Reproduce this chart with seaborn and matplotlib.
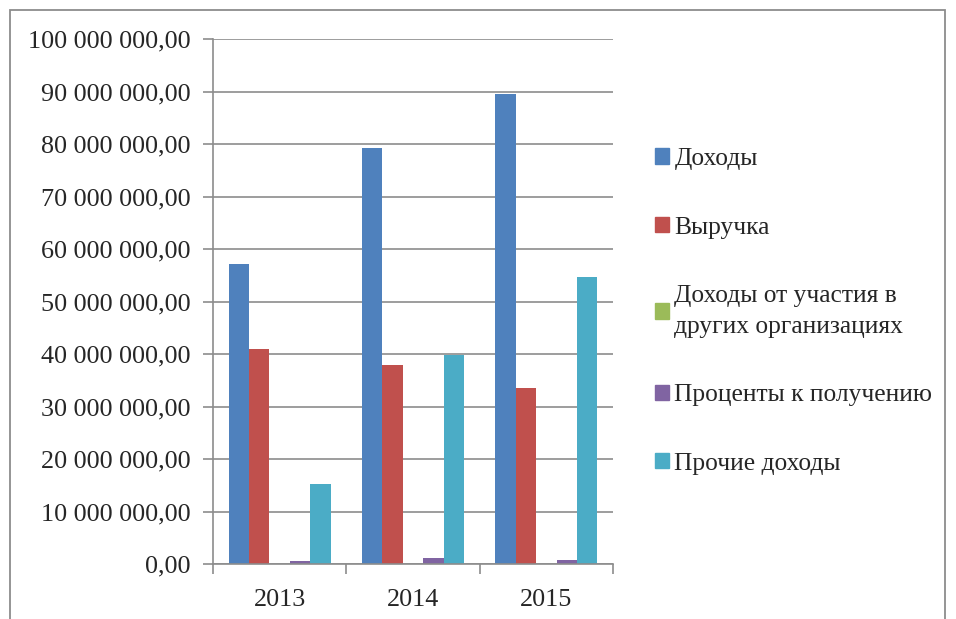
import matplotlib
matplotlib.use("Agg")
import matplotlib.pyplot as plt
import matplotlib.patches as mpatches
from matplotlib.ticker import FuncFormatter, FixedLocator
import seaborn as sns
import pandas as pd

years = ["2013", "2014", "2015"]
series = ["Доходы", "Выручка", "Доходы от участия в\nдругих организациях",
          "Проценты к получению", "Прочие доходы"]
dohody = [57200000, 79200000, 89500000]
vyruchka = [41000000, 38000000, 33600000]
uchastie = [0, 0, 0]
procenty = [640000, 1060000, 850000]
prochie = [15300000, 39900000, 54700000]
colors = ["#4F81BD", "#C0504D", "#9BBB59", "#8064A2", "#4BACC6"]

rows = []
for name, vals in zip(series, [dohody, vyruchka, uchastie, procenty, prochie]):
    for y, v in zip(years, vals):
        rows.append({"Год": y, "Серия": name, "Значение": v})
df = pd.DataFrame(rows)

sns.set_style("white")
plt.rcParams["font.family"] = ["Liberation Serif", "DejaVu Serif"]

FS = 18.8
LFS = 18.4

fig = plt.figure(figsize=(9.56, 6.19), dpi=100)
ax = fig.add_axes([213/956, 55/619, 400/956, 525/619])

sns.barplot(data=df, x="Год", y="Значение", hue="Серия", hue_order=series,
            palette=colors, width=0.765, saturation=1, ax=ax, errorbar=None,
            linewidth=0)

ax.set_ylim(0, 100000000)
ax.set_xlim(-0.5, 2.5)
ax.set_yticks([i * 10000000 for i in range(11)])
ax.yaxis.set_major_formatter(FuncFormatter(
    lambda v, p: f"{v:,.2f}".replace(",", " ").replace(".", ",")))
ax.yaxis.grid(True, color="#8c8c8c", linewidth=1.2)
ax.set_axisbelow(True)

ax.xaxis.set_major_locator(FixedLocator([-0.5, 0.5, 1.5, 2.5]))
ax.xaxis.set_minor_locator(FixedLocator([0, 1, 2]))
ax.set_xticklabels([], minor=False)
ax.set_xticklabels(years, minor=True)
ax.tick_params(axis="x", which="major", length=7, width=1.2, color="#8c8c8c", direction="out", bottom=True)
ax.tick_params(axis="x", which="minor", length=0, pad=18, labelsize=FS)
ax.tick_params(axis="y", length=7, width=1.2, color="#8c8c8c", direction="out", left=True, pad=9, labelsize=FS)
ax.set_xlabel("")
ax.set_ylabel("")

for s in ["top", "right"]:
    ax.spines[s].set_visible(False)
for s in ["left", "bottom"]:
    ax.spines[s].set_color("#8c8c8c")
    ax.spines[s].set_linewidth(1.2)

handles = [mpatches.Patch(color=c) for c in colors]
leg = ax.legend(handles, series, loc="upper left", bbox_to_anchor=(645/956, 1 - 138/619),
                bbox_transform=fig.transFigure, frameon=False, fontsize=LFS,
                handlelength=0.55, handleheight=0.55, handletextpad=0.2,
                labelspacing=1.82, borderaxespad=0)
for t in leg.get_texts():
    t.set_linespacing(1.5)

fig.add_artist(mpatches.Rectangle((10/956, -0.1), 935/956, 0.1 + 609/619,
                                  transform=fig.transFigure, fill=False,
                                  edgecolor="#8c8c8c", linewidth=1.3))

fig.savefig("out.png", dpi=100)
